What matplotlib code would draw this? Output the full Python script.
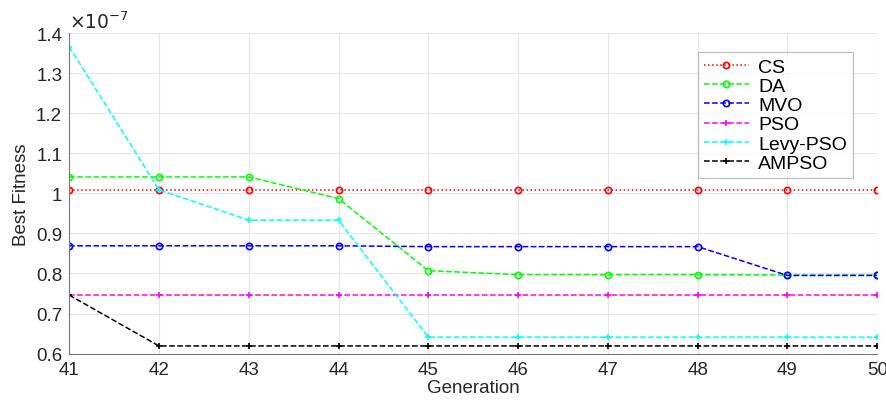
import matplotlib.pyplot as plt
from matplotlib.ticker import FuncFormatter

plt.rcParams['font.family'] = ['Liberation Sans', 'DejaVu Sans']

generation = [41, 42, 43, 44, 45, 46, 47, 48, 49, 50]

cs = [1.009, 1.009, 1.009, 1.009, 1.009, 1.009, 1.009, 1.009, 1.009, 1.009]
da = [1.041, 1.041, 1.041, 0.987, 0.807, 0.797, 0.797, 0.797, 0.796, 0.796]
mvo = [0.869, 0.869, 0.869, 0.869, 0.867, 0.867, 0.867, 0.867, 0.795, 0.795]
pso = [0.746, 0.746, 0.746, 0.746, 0.746, 0.746, 0.746, 0.746, 0.746, 0.746]
levy_pso = [1.366, 1.009, 0.933, 0.933, 0.641, 0.641, 0.641, 0.641, 0.641, 0.641]
ampso = [0.746, 0.619, 0.619, 0.619, 0.619, 0.619, 0.619, 0.619, 0.619, 0.619]

scale = 1e-7

series = [
    ("CS", cs, "red", ":", "o"),
    ("DA", da, "#00ff00", "--", "o"),
    ("MVO", mvo, "blue", "--", "o"),
    ("PSO", pso, "magenta", "--", "+"),
    ("Levy-PSO", levy_pso, "cyan", "--", "+"),
    ("AMPSO", ampso, "black", "--", "+"),
]

fig = plt.figure(figsize=(8.87, 4.02), dpi=100)
ax = fig.add_axes([0.078, 0.118, 0.911, 0.797])

for name, vals, color, ls, mk in series:
    ax.plot(generation, [v * scale for v in vals], color=color, linestyle=ls,
            marker=mk, markersize=4.5, markerfacecolor="none", markeredgewidth=1.2,
            linewidth=1.1, label=name)

ax.set_xlim(41, 50)
ax.set_ylim(0.6e-7, 1.4e-7)
ax.set_xticks(generation)
ax.set_yticks([v * 1e-8 for v in range(6, 15)])
ax.yaxis.set_major_formatter(FuncFormatter(lambda v, p: "%g" % round(v / scale, 2)))
ax.grid(True, color="#e6e6e6", linewidth=0.8)
ax.set_axisbelow(True)
for s in ["top", "right"]:
    ax.spines[s].set_visible(False)
for s in ["left", "bottom"]:
    ax.spines[s].set_color("#777777")
ax.tick_params(labelsize=13.5, colors="#262626", length=0, pad=5)

ax.set_xlabel("Generation", fontsize=13.5, color="#262626", labelpad=1)
ax.set_ylabel("Best Fitness", fontsize=13.5, color="#262626", labelpad=4)
ax.text(0.0, 1.005, r"$\times10^{-7}$", transform=ax.transAxes, fontsize=13.5,
        color="#262626", ha="left", va="bottom")

leg = ax.legend(loc="upper right", bbox_to_anchor=(0.97, 0.94), fontsize=14,
                frameon=True, fancybox=False, edgecolor="#aaaaaa",
                handlelength=2.3, handletextpad=0.5, labelspacing=0.08,
                borderpad=0.3, borderaxespad=0)
leg.get_frame().set_linewidth(0.8)

fig.savefig("out.png", dpi=100)
